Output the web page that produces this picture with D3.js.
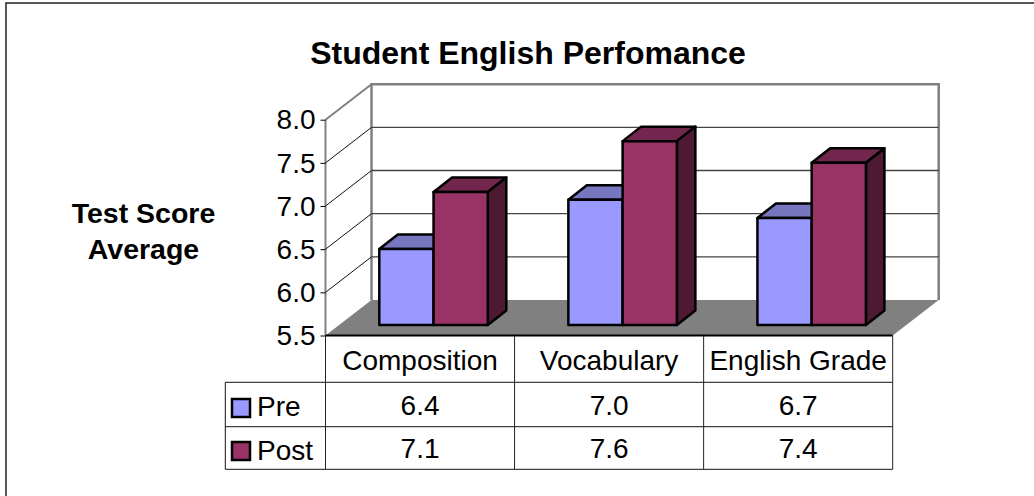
<!DOCTYPE html>
<html><head><meta charset="utf-8">
<script src="https://cdn.jsdelivr.net/npm/d3@7/dist/d3.min.js"></script>
<style>html,body{margin:0;padding:0;background:#fff}svg{display:block}text{font-family:"Liberation Sans",Arial,sans-serif;fill:#000}</style>
</head><body><div id="c"></div>
<script>
const categories = ["Composition","Vocabulary","English Grade"];
const seriesNames = ["Pre","Post"];
const preValues = [6.38,6.95,6.74];
const postValues = [7.04,7.63,7.38];
const preLabels = ["6.4","7.0","6.7"];
const postLabels = ["7.1","7.6","7.4"];
const yTicks = [5.5,6.0,6.5,7.0,7.5,8.0];
const titleText = "Student English Perfomance";
const yTitle = ["Test Score","Average"];
const colors = {Pre:["#9999ff","#7777bf","#5a5a90"],Post:["#993366","#73264d","#4d1933"]};

const W=1034,H=496;
const svg=d3.select("#c").append("svg").attr("width",W).attr("height",H);
const x0=325.5,x1=892.7,yBase=335.5,yTop=119.7,dx=46,dy=-35.5;
const y=d3.scaleLinear().domain([5.5,8]).range([yBase,yTop]);
const xBand=d3.scaleBand().domain(categories).range([x0,x1]);
const innerBand=d3.scaleBand().domain(seriesNames).range([0,108.5]);
const GRAY="#808080",LINE="#444";

svg.append("path").attr("d","M6,496V3H1034").attr("fill","none").attr("stroke","#222").attr("stroke-width",1.5);

svg.append("text").attr("x",528).attr("y",63.5).attr("text-anchor","middle")
  .attr("font-size",32).attr("font-weight","bold").text(titleText);
yTitle.forEach((t,i)=>svg.append("text").attr("x",143.5).attr("y",223+i*35.5)
  .attr("text-anchor","middle").attr("font-size",28.5).attr("font-weight","bold").text(t));

svg.append("path").attr("d",`M${x0},${yBase}L${x0+dx},${yBase+dy}H${x1+dx}L${x1},${yBase}Z`).attr("fill",GRAY);
svg.append("path").attr("d",`M${x0+dx},${yBase+dy}V${yTop+dy}H${x1+dx}V${yBase+dy}`).attr("fill","none").attr("stroke",GRAY).attr("stroke-width",2.5);
svg.append("path").attr("d",`M${x0},${yTop}L${x0+dx},${yTop+dy}`).attr("stroke",GRAY).attr("stroke-width",2).attr("fill","none");
svg.append("line").attr("x1",x0).attr("x2",x0).attr("y1",yTop).attr("y2",yBase).attr("stroke",GRAY).attr("stroke-width",2);

yTicks.filter(v=>v>5.5&&v<8).forEach(v=>{
  svg.append("path").attr("d",`M${x0},${y(v)}L${x0+dx},${y(v)+dy}`).attr("fill","none").attr("stroke","#111").attr("stroke-width",1);
  svg.append("path").attr("d",`M${x0+dx},${y(v)+dy}H${x1+dx}`).attr("fill","none").attr("stroke",LINE).attr("stroke-width",1.3);
});
const axis=d3.axisLeft(y).tickValues(yTicks).tickFormat(d3.format(".1f")).tickSize(5).tickPadding(5);
const ax=svg.append("g").attr("transform",`translate(${x0},0)`).call(axis);
ax.select(".domain").remove();
ax.selectAll("line").attr("stroke","#000");
ax.selectAll("text").attr("font-size",28).attr("font-family",'"Liberation Sans"').attr("dy","0.33em");

const barBase=325, scalePx=(yBase-yTop)/2.5, depthX=18.5, depthY=-14.5;
const by=v=>barBase-(v-5.5)*scalePx;
const groups=[preValues,postValues];
categories.forEach((c,ci)=>{
  const gx=xBand(c)+53.8;
  seriesNames.forEach((s,si)=>{
    const v=groups[si][ci],l=gx+innerBand(s),r=l+innerBand.bandwidth(),t=by(v),col=colors[s];
    const g=svg.append("g").attr("stroke","#000").attr("stroke-width",2.5).attr("stroke-linejoin","round");
    g.append("path").attr("d",`M${l},${t}L${l+depthX},${t+depthY}H${r+depthX}L${r},${t}Z`).attr("fill",col[1]);
    g.append("path").attr("d",`M${r},${t}L${r+depthX},${t+depthY}V${barBase+depthY}L${r},${barBase}Z`).attr("fill",col[2]);
    g.append("rect").attr("x",l).attr("y",t).attr("width",r-l).attr("height",barBase-t).attr("fill",col[0]);
  });
});
svg.append("line").attr("x1",x0).attr("x2",x1).attr("y1",yBase).attr("y2",yBase).attr("stroke","#000").attr("stroke-width",2);

const rows=[382.3,426.7,469.3], left=225.3;
const vLines=[x0,...categories.slice(1).map(c=>xBand(c)),x1];
svg.append("path").attr("d",`M${left},${rows[0]}H${x1}M${left},${rows[1]}H${x1}M${left},${rows[2]}H${x1}M${left},${rows[0]}V${rows[2]}`)
  .attr("fill","none").attr("stroke","#111").attr("stroke-width",1);
vLines.forEach(v=>svg.append("line").attr("x1",v).attr("x2",v).attr("y1",yBase).attr("y2",rows[2]).attr("stroke","#222").attr("stroke-width",1));
categories.forEach(c=>svg.append("text").attr("x",xBand(c)+xBand.bandwidth()/2).attr("y",370)
  .attr("text-anchor","middle").attr("font-size",28).text(c));
[preLabels,postLabels].forEach((arr,ri)=>{
  const ty=ri?457.5:414.5;
  arr.forEach((t,i)=>svg.append("text").attr("x",xBand(categories[i])+xBand.bandwidth()/2).attr("y",ty)
    .attr("text-anchor","middle").attr("font-size",28).text(t));
  svg.append("rect").attr("x",232).attr("y",ri?442:399).attr("width",18).attr("height",18)
    .attr("fill",colors[seriesNames[ri]][0]).attr("stroke","#000").attr("stroke-width",2.5);
  svg.append("text").attr("x",257).attr("y",ri?460:416).attr("font-size",28).text(seriesNames[ri]);
});
</script></body></html>
